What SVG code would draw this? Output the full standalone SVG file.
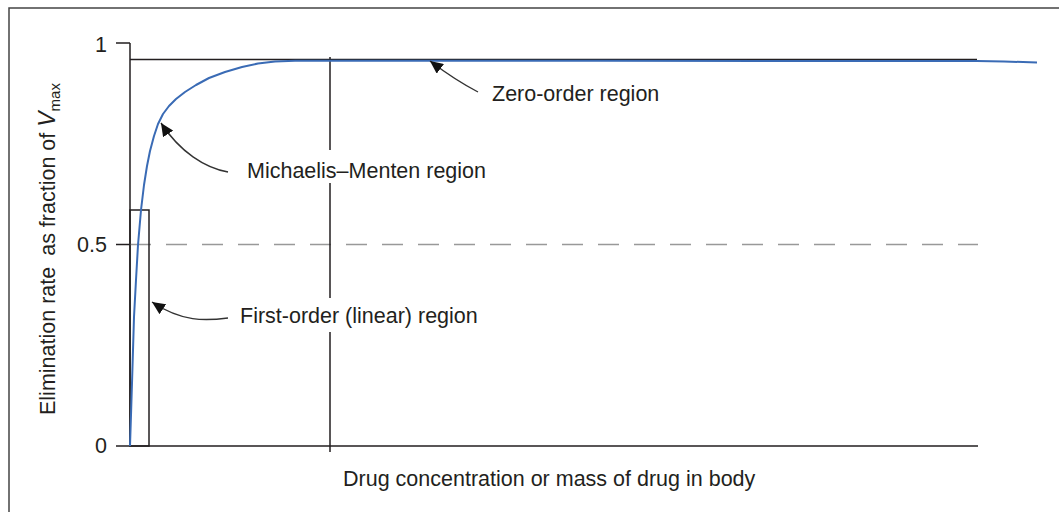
<svg xmlns="http://www.w3.org/2000/svg" width="1059" height="512" viewBox="0 0 1059 512">
<style>
.ax{stroke:#231f20;stroke-width:1.5;fill:none}
.arr{stroke:#333;stroke-width:1.4;fill:none;marker-end:url(#ah)}
text{font-family:"Liberation Sans",Arial,sans-serif;font-size:21.5px;fill:#231f20}
.tick{text-anchor:end}
</style>
<defs>
<marker id="ah" markerUnits="userSpaceOnUse" markerWidth="14" markerHeight="12" refX="13" refY="6" orient="auto">
<path d="M0,0 L13,6 L0,12 z" fill="#111"/>
</marker>
</defs>
<rect x="9" y="8" width="1100" height="600" fill="#fff" stroke="#444" stroke-width="1.5"/>
<g id="axes">
<path class="ax" d="M130,43 V446 M116,43 H130 M116,244.5 H130 M116,446 H978"/>
<path d="M130,244.5 H978" stroke="#999" stroke-width="1.5" stroke-dasharray="21 15" fill="none"/>
<path class="ax" d="M130,59.5 H977"/>
<path class="ax" d="M330,57 V150 M330,183 V298 M330,332 V452"/>
<rect class="ax" x="130" y="210" width="19" height="236"/>
</g>
<g id="tick-labels">
<text class="tick" x="107" y="52">1</text>
<text class="tick" x="107" y="252">0.5</text>
<text class="tick" x="107" y="453">0</text>
</g>
<g id="curve">
<path d="M130,446 L131,415 L132,383 L133,350 L134,317 L136,280 L138,245 L141,210 L144,185 L147,166 L150,151 L154,136 L158,124 L163,114 L169,106 L176,99 L185,92 L196,85 L209,78 L225,72 L242,67 L258,63.5 L275,61.5 L295,60.8 L600,60.8 L977,61 L1004,61.5 L1037,62.5" fill="none" stroke="#3a6bb5" stroke-width="2" stroke-linejoin="round"/>
</g>
<g id="connectors">
<path class="arr" d="M228,172 C205,168 180,152 161,123"/>
<path class="arr" d="M228,318 C205,321 182,322 152,302"/>
<path class="arr" d="M478,92 Q455,80 430,61"/>
</g>
<g id="label-zero"><text x="492" y="101">Zero-order region</text></g>
<g id="label-mm"><text x="247" y="178">Michaelis–Menten region</text></g>
<g id="label-first"><text x="240" y="323">First-order (linear) region</text></g>
<g id="label-x"><text x="343" y="486">Drug concentration or mass of drug in body</text></g>
<g id="label-y"><text transform="translate(55,415) rotate(-90)" font-size="22">Elimination rate<tspan dx="11">as fraction of </tspan><tspan font-style="italic" font-size="23">V</tspan><tspan font-size="15" dy="5">max</tspan></text></g>
</svg>
